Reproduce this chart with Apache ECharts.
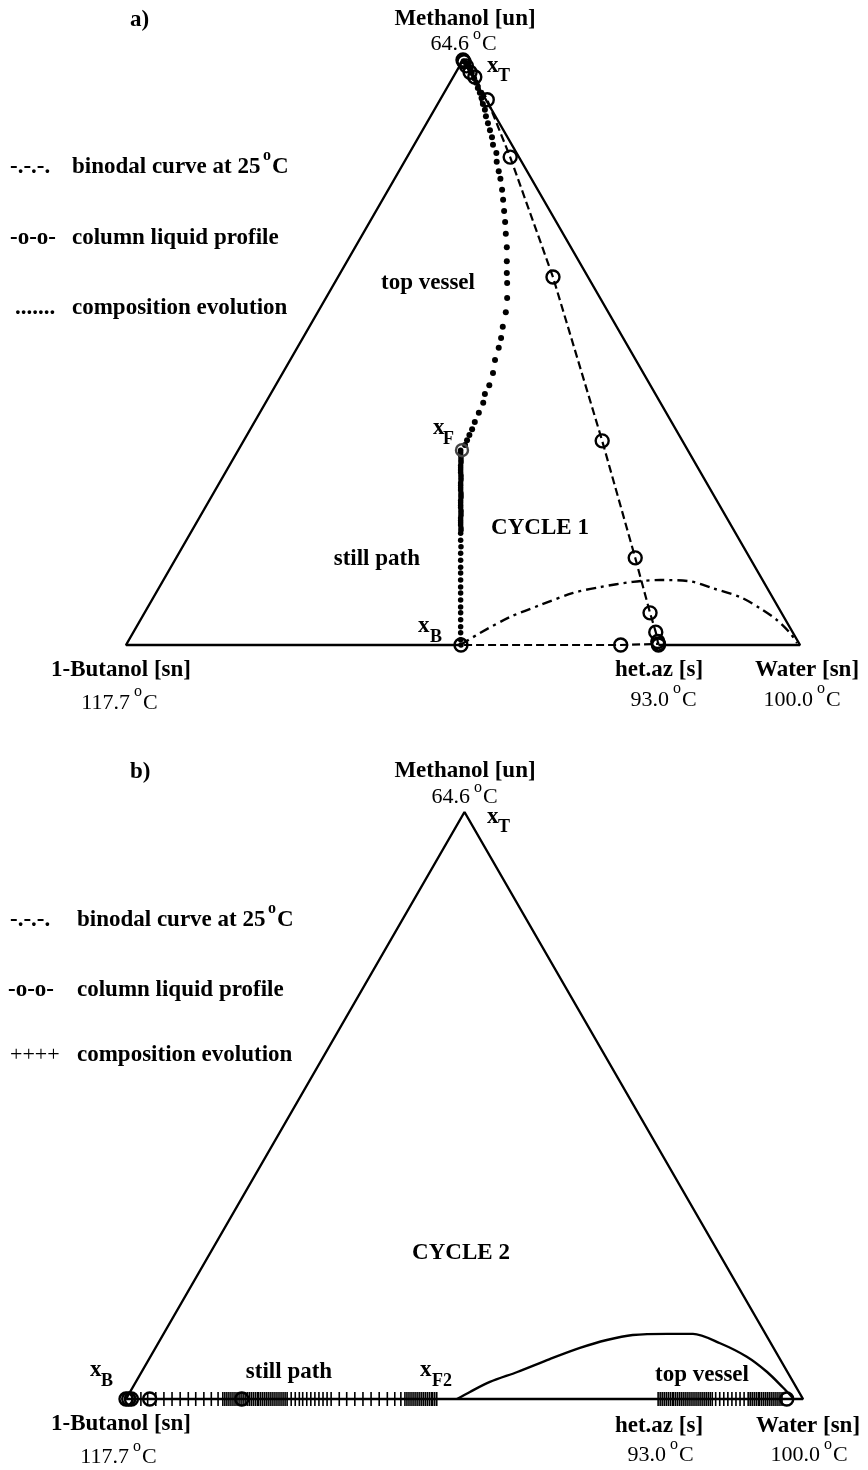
<!DOCTYPE html>
<html>
<head>
<meta charset="utf-8">
<script src="https://cdn.jsdelivr.net/npm/echarts@6/dist/echarts.min.js"></script>
<style>
  html, body { margin: 0; padding: 0; background: #fff; }
  #chart { width: 868px; height: 1470px; }
</style>
</head>
<body>
<div id="chart"></div>
<script>
// Compositions are [x_methanol, x_water]; x_butanol = 1 - x_methanol - x_water.

// ---- Panel a) CYCLE 1 ----
const binodalA = [
  [0.000, 0.496], [0.0205, 0.515], [0.048, 0.546], [0.068, 0.580], [0.089, 0.619],
  [0.099, 0.654], [0.108, 0.698], [0.111, 0.737], [0.109, 0.782], [0.097, 0.822],
  [0.082, 0.870], [0.063, 0.909], [0.043, 0.944], [0.0205, 0.975], [0.0034, 0.994]
];
const profileA = [
  [1.000, 0.000], [0.997, 0.003], [0.990, 0.010], [0.979, 0.021], [0.971, 0.032],
  [0.932, 0.070], [0.834, 0.153], [0.629, 0.319], [0.349, 0.532], [0.149, 0.681],
  [0.055, 0.750], [0.022, 0.775], [0.006, 0.786], [0.002, 0.789], [0.000, 0.790],
  [0.000, 0.734], [0.000, 0.497]
];
const topVesselA = [
  [0.342, 0.332], [0.350, 0.331], [0.359, 0.330], [0.369, 0.329], [0.381, 0.327],
  [0.397, 0.325], [0.414, 0.323], [0.429, 0.318], [0.444, 0.317], [0.465, 0.312],
  [0.487, 0.304], [0.508, 0.299], [0.525, 0.294], [0.544, 0.287], [0.569, 0.279],
  [0.593, 0.269], [0.619, 0.256], [0.636, 0.247], [0.656, 0.237], [0.680, 0.225],
  [0.703, 0.212], [0.723, 0.201], [0.742, 0.190], [0.761, 0.179], [0.778, 0.169],
  [0.797, 0.157], [0.810, 0.148], [0.826, 0.137], [0.841, 0.129], [0.855, 0.117],
  [0.868, 0.109], [0.880, 0.100], [0.892, 0.091], [0.904, 0.082], [0.915, 0.075],
  [0.925, 0.067], [0.935, 0.060], [0.944, 0.053], [0.952, 0.046], [0.961, 0.039],
  [0.969, 0.032], [0.978, 0.024], [0.985, 0.018], [0.990, 0.012], [0.995, 0.007],
  [0.998, 0.002]
];
const stillMethanolA = [
  0.333, 0.329, 0.325, 0.320, 0.316, 0.312, 0.307, 0.303, 0.299, 0.295,
  0.290, 0.286, 0.282, 0.277, 0.273, 0.269, 0.265, 0.260, 0.256, 0.252,
  0.247, 0.243, 0.239, 0.235, 0.230, 0.226, 0.222, 0.217, 0.213, 0.209,
  0.205, 0.200, 0.196, 0.191, 0.179, 0.168, 0.157, 0.145, 0.133, 0.123,
  0.111, 0.099, 0.089, 0.077, 0.065, 0.055, 0.043, 0.031, 0.021, 0.009, 0.000
];
const stillWaterA = [
  0.330, 0.332, 0.334, 0.337, 0.339, 0.341, 0.343, 0.345, 0.347, 0.349,
  0.352, 0.354, 0.356, 0.358, 0.360, 0.362, 0.364, 0.367, 0.369, 0.371,
  0.373, 0.375, 0.377, 0.379, 0.382, 0.384, 0.386, 0.388, 0.390, 0.392,
  0.394, 0.397, 0.399, 0.401, 0.407, 0.413, 0.418, 0.424, 0.430, 0.435,
  0.441, 0.447, 0.452, 0.458, 0.464, 0.469, 0.475, 0.481, 0.486, 0.492, 0.497
];
const feedA = [0.333, 0.332];

// ---- Panel b) CYCLE 2 ----
const binodalB = [
  [0.000, 0.489], [0.012, 0.502], [0.029, 0.523], [0.046, 0.555], [0.068, 0.592],
  [0.087, 0.627], [0.1005, 0.660], [0.109, 0.694], [0.111, 0.744], [0.111, 0.782],
  [0.095, 0.830], [0.072, 0.881], [0.046, 0.924], [0.020, 0.960], [0.002, 0.984]
];
const profileWaterB = [0.000, 0.004, 0.008, 0.035, 0.171, 0.976];
const stillWaterB = [
  0.010, 0.022, 0.032, 0.044, 0.056, 0.068, 0.080, 0.092, 0.103, 0.115,
  0.126, 0.136, 0.143, 0.146, 0.149, 0.152, 0.155, 0.158, 0.161, 0.164,
  0.167, 0.170, 0.173, 0.176, 0.179, 0.182, 0.185, 0.188, 0.191, 0.194,
  0.196, 0.199, 0.202, 0.205, 0.208, 0.211, 0.214, 0.217, 0.220, 0.223,
  0.226, 0.229, 0.232, 0.235, 0.238, 0.244, 0.250, 0.256, 0.261, 0.267,
  0.273, 0.279, 0.285, 0.291, 0.297, 0.303, 0.315, 0.326, 0.338, 0.350,
  0.362, 0.374, 0.386, 0.397, 0.406, 0.412, 0.415, 0.418, 0.421, 0.424,
  0.427, 0.430, 0.433, 0.436, 0.439, 0.442, 0.445, 0.448, 0.451, 0.453,
  0.456, 0.459
];
const topVesselWaterB = [
  0.786, 0.789, 0.792, 0.795, 0.798, 0.801, 0.804, 0.807, 0.809, 0.812,
  0.815, 0.818, 0.821, 0.824, 0.827, 0.830, 0.833, 0.836, 0.839, 0.842,
  0.845, 0.848, 0.851, 0.854, 0.857, 0.860, 0.863, 0.866, 0.871, 0.877,
  0.883, 0.889, 0.895, 0.901, 0.907, 0.913, 0.919, 0.922, 0.925, 0.928,
  0.931, 0.934, 0.936, 0.939, 0.942, 0.945, 0.948, 0.951, 0.954, 0.957,
  0.960, 0.963, 0.966, 0.969
];

// Triangle corners: pure components
const METHANOL = [1, 0], WATER = [0, 1], BUTANOL = [0, 0];

// ternary [m, w] -> cartesian on an equilateral triangle of unit side
const H = Math.sqrt(3) / 2;
const toXY = (c) => [c[1] + c[0] / 2, c[0] * H];
const xy = (arr) => arr.map(toXY);

const BLACK = '#000';
function lineSeries(grid, data, lineStyle, extra) {
  return Object.assign({
    type: 'line', xAxisIndex: grid, yAxisIndex: grid, data: xy(data),
    symbol: 'none', clip: false, silent: true, animation: false,
    lineStyle: Object.assign({ color: BLACK, width: 2.4, opacity: 1 }, lineStyle)
  }, extra || {});
}
function dotSeries(grid, data, symbol, size, itemStyle) {
  return {
    type: 'scatter', xAxisIndex: grid, yAxisIndex: grid, data: xy(data),
    symbol: symbol, symbolSize: size, clip: false, silent: true, animation: false,
    itemStyle: Object.assign({ opacity: 1 }, itemStyle)
  };
}

const stillA = stillMethanolA.map((m, i) => [m, stillWaterA[i]]);
const onBase = (ws) => ws.map((w) => [0, w]);
const ring = { color: 'rgba(0,0,0,0)', borderColor: BLACK, borderWidth: 2.4 };

const series = [
  // panel a
  lineSeries(0, [[0, 0.497], BUTANOL, METHANOL, WATER, [0, 0.790]], {}),
  lineSeries(0, binodalA, { type: [10, 5, 3, 5], width: 2.4 }, { smooth: 0.3 }),
  lineSeries(0, profileA, { type: [8, 4], width: 2.2 }),
  dotSeries(0, profileA, 'circle', 13, ring),
  dotSeries(0, topVesselA, 'circle', 6, { color: BLACK }),
  dotSeries(0, stillA, 'circle', 5.5, { color: BLACK }),
  dotSeries(0, [feedA], 'circle', 12, { color: 'rgba(0,0,0,0)', borderColor: '#444', borderWidth: 2.4 }),
  // panel b
  lineSeries(1, [BUTANOL, METHANOL, WATER, BUTANOL], {}),
  lineSeries(1, binodalB, { width: 2.4 }, { smooth: 0.3 }),
  dotSeries(1, onBase(stillWaterB), 'rect', [1.6, 14], { color: BLACK }),
  dotSeries(1, onBase(topVesselWaterB), 'rect', [1.6, 14], { color: BLACK }),
  dotSeries(1, onBase(profileWaterB), 'circle', 13, ring)
];

// ---- text ----
const SERIF = '"Liberation Serif", "Times New Roman", serif';
const B = 'bold 23px ' + SERIF, R = '22px ' + SERIF;
const SUP = '16px ' + SERIF, SUPB = 'bold 16px ' + SERIF, SUB = 'bold 18px ' + SERIF;
function t(text, x, y, font, align) {
  return {
    type: 'text', x: x, y: y, silent: true,
    style: { text: text, font: font, fill: BLACK,
             align: align || 'left', verticalAlign: 'middle',
             textAlign: align || 'left', textVerticalAlign: 'middle' }
  };
}
function deg(value, right, y, dy) {
  return [t(value, right, y, R, 'right'), t('o', right + 4, y - dy, SUP), t('C', right + 13, y, R)];
}

const graphics = [
  // panel a
  t('a)', 130, 20, B),
  t('Methanol [un]', 465, 19, B, 'center'),
  ...deg('64.6', 469, 44, 9),
  t('x', 487, 66, B), t('T', 498, 76, SUB),
  t('-.-.-.', 10, 167, B), t('binodal curve at 25', 72, 167, B), t('o', 263, 156, SUPB), t('C', 272, 167, B),
  t('-o-o-', 10, 238, B), t('column liquid profile', 72, 238, B),
  t('.......', 15, 308, B), t('composition evolution', 72, 308, B),
  t('top vessel', 428, 283, B, 'center'),
  t('x', 433, 428, B), t('F', 443, 439, SUB),
  t('CYCLE 1', 540, 528, B, 'center'),
  t('still path', 420, 559, B, 'right'),
  t('x', 418, 626, B), t('B', 430, 637, SUB),
  t('1-Butanol [sn]', 121, 670, B, 'center'),
  ...deg('117.7', 130, 703, 11),
  t('het.az [s]', 659, 670, B, 'center'),
  ...deg('93.0', 669, 700, 11),
  t('Water [sn]', 807, 670, B, 'center'),
  ...deg('100.0', 813, 700, 11),
  // panel b
  t('b)', 130, 772, B),
  t('Methanol [un]', 465, 771, B, 'center'),
  ...deg('64.6', 470, 797, 9),
  t('x', 487, 817, B), t('T', 498, 827, SUB),
  t('-.-.-.', 10, 920, B), t('binodal curve at 25', 77, 920, B), t('o', 268, 909, SUPB), t('C', 277, 920, B),
  t('-o-o-', 8, 990, B), t('column liquid profile', 77, 990, B),
  t('++++', 10, 1055, R), t('composition evolution', 77, 1055, B),
  t('CYCLE 2', 461, 1253, B, 'center'),
  t('still path', 289, 1372, B, 'center'),
  t('x', 420, 1370, B), t('F2', 432, 1381, SUB),
  t('x', 90, 1370, B), t('B', 101, 1381, SUB),
  t('top vessel', 702, 1375, B, 'center'),
  t('1-Butanol [sn]', 121, 1424, B, 'center'),
  ...deg('117.7', 129, 1457, 10),
  t('het.az [s]', 659, 1426, B, 'center'),
  ...deg('93.0', 666, 1455, 10),
  t('Water [sn]', 808, 1426, B, 'center'),
  ...deg('100.0', 820, 1455, 10)
];

const axisOff = { type: 'value', min: 0, show: false };
const chart = echarts.init(document.getElementById('chart'), null, { renderer: 'canvas' });
chart.setOption({
  backgroundColor: '#fff',
  animation: false,
  grid: [
    { left: 126, top: 60, width: 674, height: 585 },
    { left: 126, top: 812, width: 677, height: 587 }
  ],
  xAxis: [
    Object.assign({ gridIndex: 0, max: 1 }, axisOff),
    Object.assign({ gridIndex: 1, max: 1 }, axisOff)
  ],
  yAxis: [
    Object.assign({ gridIndex: 0, max: H }, axisOff),
    Object.assign({ gridIndex: 1, max: H }, axisOff)
  ],
  series: series,
  graphic: graphics
});
</script>
</body>
</html>
